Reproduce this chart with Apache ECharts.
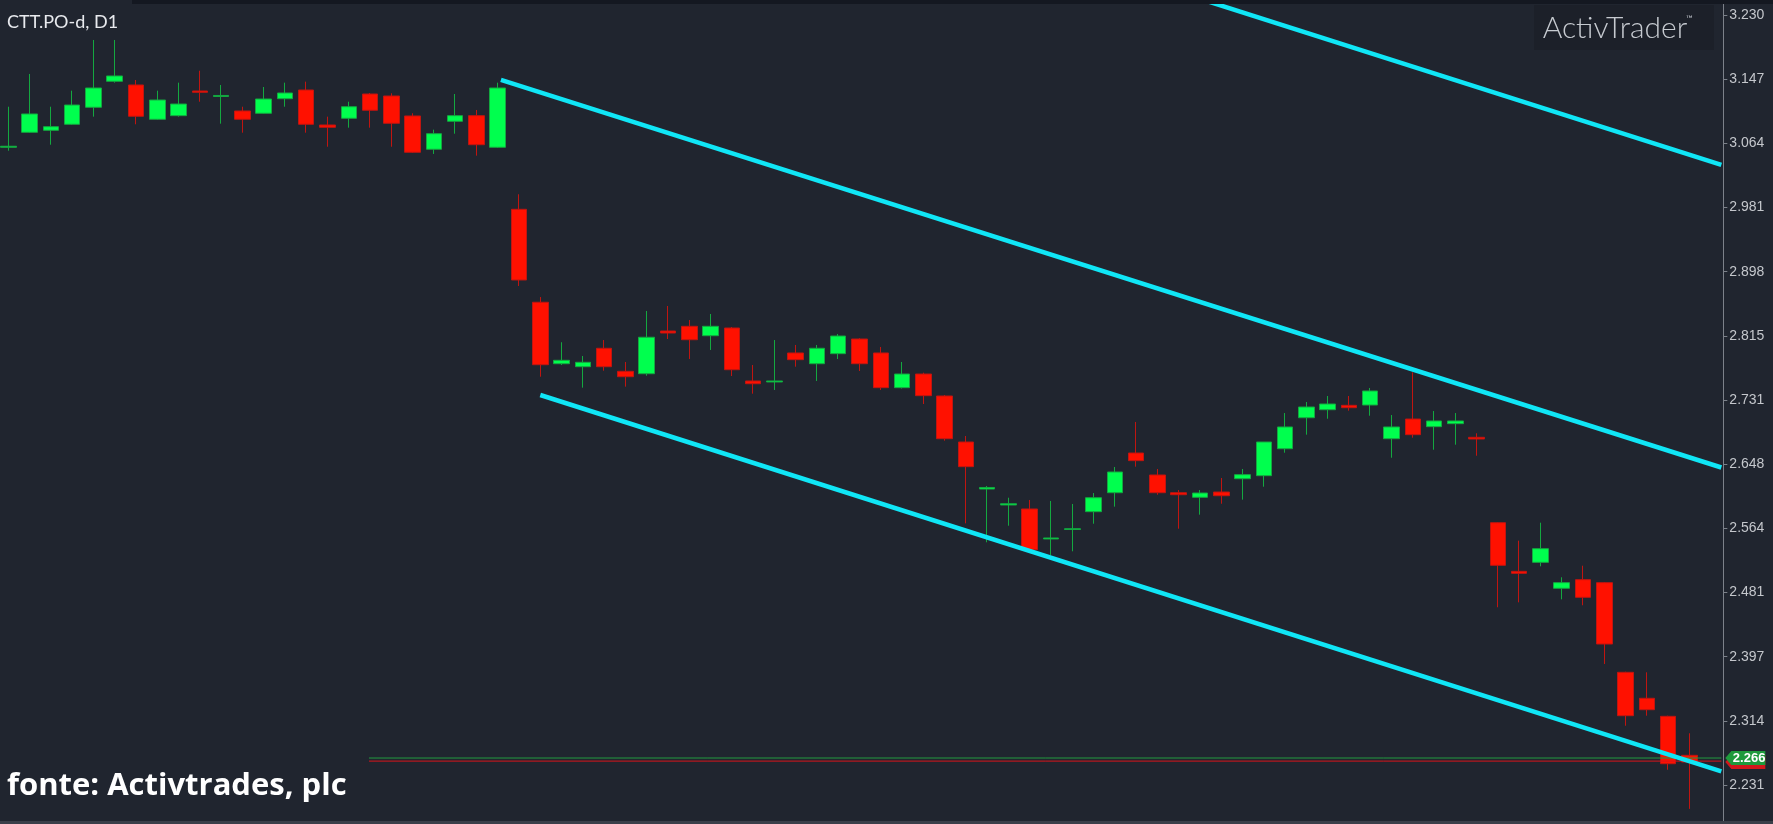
<!DOCTYPE html>
<html>
<head>
<meta charset="utf-8">
<script src="https://cdn.jsdelivr.net/npm/echarts@6.0.0/dist/echarts.min.js"></script>
<style>
html,body{margin:0;padding:0;background:#20252f;overflow:hidden}
#c{width:1773px;height:824px}
</style>
</head>
<body>
<div id="c"></div>
<script>
// ---------------- data ----------------
const symbolTitle = 'CTT.PO-d, D1';
const sourceText = 'fonte: Activtrades, plc';
const brandText = 'ActivTrader';

// 80 daily candles + 1 empty slot on the right
const categories = Array.from({length: 81}, (_, i) => 'D' + (i + 1));

const opens = [3.0584,3.0778,3.0804,3.0882,3.1103,3.1440,3.1392,3.0947,3.0994,3.1314,
3.1243,3.1055,3.1025,3.1214,3.1327,3.0873,3.0960,3.1275,3.1249,3.0990,
3.0558,3.0921,3.0994,3.0584,2.9779,2.8573,2.7776,2.7737,2.7976,2.7677,
2.7646,2.8200,2.8261,2.8139,2.8239,2.7552,2.7539,2.7915,2.7776,2.7906,
2.8096,2.7915,2.7465,2.7642,2.7357,2.6760,2.6150,2.5943,2.5891,2.5502,
2.5625,2.5856,2.6102,2.6617,2.6332,2.6102,2.6043,2.6111,2.6284,2.6323,
2.6673,2.7075,2.7179,2.7236,2.7240,2.6803,2.7058,2.6959,2.6998,2.6821,
2.5713,2.5082,2.5199,2.4862,2.4974,2.4935,2.3772,2.3435,2.3201,2.2695];

const closes = [3.0597,3.1016,3.0851,3.1132,3.1353,3.1509,3.0986,3.1197,3.1145,3.1297,
3.1256,3.0947,3.1210,3.1288,3.0882,3.0843,3.1110,3.1064,3.0895,3.0519,
3.0760,3.0994,3.0617,3.1353,2.8862,2.7763,2.7820,2.7794,2.7737,2.7607,
2.8119,2.8174,2.8087,2.8261,2.7698,2.7516,2.7552,2.7828,2.7976,2.8135,
2.7776,2.7465,2.7642,2.7361,2.6803,2.6440,2.6170,2.5959,2.5363,2.5515,
2.5635,2.6037,2.6371,2.6518,2.6102,2.6076,2.6098,2.6063,2.6336,2.6760,
2.6955,2.7214,2.7253,2.7205,2.7422,2.6955,2.6855,2.7033,2.7033,2.6799,
2.5160,2.5056,2.5376,2.4935,2.4745,2.4139,2.3209,2.3287,2.2586,2.2608];

const lows = [3.0539,3.0769,3.0617,3.0873,3.0981,3.1422,3.0882,3.0938,3.0981,3.1175,
3.0890,3.0773,3.1020,3.1110,3.0773,3.0591,3.0838,3.0838,3.0591,3.0510,
3.0497,3.0760,3.0475,3.0575,2.8784,2.7607,2.7759,2.7465,2.7685,2.7478,
2.7620,2.8096,2.7837,2.7954,2.7616,2.7387,2.7435,2.7737,2.7552,2.7837,
2.7681,2.7435,2.7454,2.7253,2.6777,2.5705,2.5459,2.5674,2.5352,2.5294,
2.5342,2.5700,2.5921,2.6440,2.6076,2.5635,2.5817,2.5959,2.6012,2.6180,
2.6621,2.6855,2.7062,2.7166,2.7101,2.6556,2.6816,2.6660,2.6725,2.6582,
2.4616,2.4680,2.5147,2.4719,2.4642,2.3880,2.3079,2.3209,2.2508,2.2000];

const highs = [3.1110,3.1535,3.1110,3.1318,3.1976,3.1976,3.1457,3.1318,3.1422,3.1577,
3.1392,3.1110,3.1366,3.1422,3.1435,3.0981,3.1175,3.1288,3.1284,3.1025,
3.0812,3.1275,3.1068,3.1422,2.9974,2.8641,2.8054,2.7876,2.8083,2.7798,
2.8460,2.8525,2.8343,2.8421,2.8252,2.7759,2.8083,2.8019,2.8019,2.8161,
2.8106,2.7993,2.7798,2.7659,2.7370,2.6838,2.6189,2.6037,2.6008,2.5995,
2.5956,2.6098,2.6436,2.7020,2.6410,2.6137,2.6137,2.6293,2.6410,2.6760,
2.7136,2.7279,2.7357,2.7357,2.7461,2.7110,2.7664,2.7162,2.7136,2.6873,
2.5720,2.5480,2.5713,2.5005,2.5155,2.4944,2.3780,2.3772,2.3209,2.2981];

// price-axis tick labels (bottom to top)
const tickLabels = ['2.231','2.314','2.397','2.481','2.564','2.648','2.731','2.815','2.898','2.981','3.064','3.147','3.230'];

// channel lines, endpoints as [candle index, price]
const channelUpper  = [[23.15, 3.5397], [80.5, 3.0356]];
const channelMiddle = [[23.15, 3.1457], [80.5, 2.6429]];
const channelLower  = [[25.0, 2.7370], [80.5, 2.2486]];

// current ask / bid lines
const askPrice = 2.266;
const bidPrice = 2.262;
const priceLineStart = 16.95;

// ---------------- layout ----------------
const Y_STEP = 0.08325;
const Y_MIN = 2.231 - Y_STEP;
const Y_MAX = 3.230 + Y_STEP;
const BAND = 21.28;
const GRID_LEFT = -2.34;
const GRID_W = BAND * categories.length;
const GRID_TOP = -49.17;
const GRID_H = 898.33;
const X_END = categories.length - 0.5;

const candleData = opens.map((o, i) => [o, closes[i], lows[i], highs[i]]);

const chart = echarts.init(document.getElementById('c'), null, {renderer: 'canvas'});
const cyan = '#10e6f6';

const option = {
  backgroundColor: '#20252f',
  animation: false,
  grid: {left: GRID_LEFT, top: GRID_TOP, width: GRID_W, height: GRID_H, containLabel: false, outerBoundsMode: 'none'},
  xAxis: [
    {type: 'category', data: categories, boundaryGap: true, show: false},
    {type: 'value', min: -0.5, max: X_END, show: false}
  ],
  yAxis: {
    type: 'value', position: 'right', min: Y_MIN, max: Y_MAX, interval: Y_STEP, offset: 2,
    axisLine: {show: true, onZero: false, lineStyle: {color: '#7c818a', width: 1}},
    axisTick: {show: true, length: 4, lineStyle: {color: '#7c818a'}},
    splitLine: {show: false},
    axisLabel: {
      color: '#c4c7cc', fontSize: 14, fontFamily: '"Liberation Sans", Arial, sans-serif', margin: 6,
      formatter: v => { const k = Math.round((v - Y_MIN) / Y_STEP); return tickLabels[k - 1] || ''; }
    }
  },
  series: [
    {
      type: 'candlestick', xAxisIndex: 0, yAxisIndex: 0, data: candleData, barWidth: 16, z: 2,
      itemStyle: {color: '#00ff4e', color0: '#ff1100', borderColor: '#14a840', borderColor0: '#c01510', borderWidth: 1}
    },
    {
      type: 'line', xAxisIndex: 1, symbol: 'none', z: 3, silent: true,
      data: [[priceLineStart, bidPrice], [X_END, bidPrice]],
      lineStyle: {color: '#d8141a', width: 1}
    },
    {
      type: 'line', xAxisIndex: 1, symbol: 'none', z: 3, silent: true,
      data: [[priceLineStart, askPrice], [X_END, askPrice]],
      lineStyle: {color: '#229a40', width: 1}
    },
    {type: 'line', xAxisIndex: 1, symbol: 'none', z: 4, silent: true, data: channelUpper, lineStyle: {color: cyan, width: 4.5}},
    {type: 'line', xAxisIndex: 1, symbol: 'none', z: 4, silent: true, data: channelMiddle, lineStyle: {color: cyan, width: 4.5}},
    {type: 'line', xAxisIndex: 1, symbol: 'none', z: 4, silent: true, data: channelLower, lineStyle: {color: cyan, width: 4.5}},
    {
      type: 'custom', xAxisIndex: 1, yAxisIndex: 0, clip: false, z: 10, silent: true,
      data: [[X_END, askPrice]],
      renderItem: (params, api) => {
        const p = api.coord([api.value(0), api.value(1)]);
        const x0 = p[0] + 2, cy = p[1];
        const shp = dy => [[x0 + 2, cy + dy], [x0 + 8, cy + dy - 7], [x0 + 42, cy + dy - 7], [x0 + 42, cy + dy + 7], [x0 + 8, cy + dy + 7]];
        return {type: 'group', children: [
          {type: 'polygon', shape: {points: shp(4)}, style: {fill: '#d3161b'}},
          {type: 'polygon', shape: {points: shp(0)}, style: {fill: '#1e9a3c'}},
          {type: 'text', x: x0 + 9.5, y: cy, style: {text: api.value(1).toFixed(3), fill: '#ffffff', font: 'bold 13px "Liberation Sans", Arial', verticalAlign: 'middle'}}
        ]};
      }
    }
  ],
  graphic: [
    {type: 'rect', shape: {x: 132, y: 0, width: 1641, height: 4}, style: {fill: '#141821'}, z: 50},
    {type: 'rect', shape: {x: 0, y: 821, width: 1773, height: 3}, style: {fill: '#3a3f49'}, z: 50},
    {type: 'text', x: 7, y: 21.7, style: {text: symbolTitle, font: '18px Lato, "Noto Sans", sans-serif', fill: '#e8eaee', verticalAlign: 'middle'}, z: 50},
    {type: 'rect', shape: {x: 1534, y: 5, width: 180, height: 45}, style: {fill: '#1c2029'}, z: 50},
    {type: 'text', x: 1542.7, y: 28.5, style: {text: brandText, font: '300 30px Lato, sans-serif', fill: '#c6cad0', verticalAlign: 'middle'}, z: 51},
    {type: 'text', x: 1686, y: 19, style: {text: '\u2122', font: '9px Lato, sans-serif', fill: '#b8bcc3', verticalAlign: 'middle'}, z: 51},
    {type: 'text', x: 7, y: 786.5, style: {text: sourceText, font: 'bold 31px "Open Sans", sans-serif', fill: '#ffffff', verticalAlign: 'middle'}, z: 50}
  ]
};
chart.setOption(option);
</script>
</body>
</html>
